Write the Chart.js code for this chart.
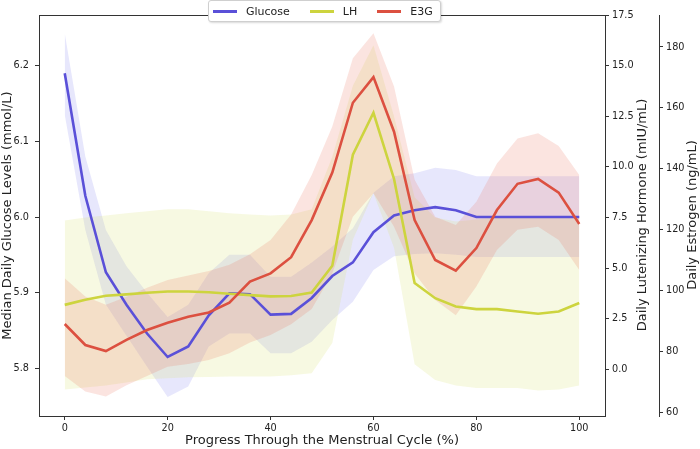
<!DOCTYPE html>
<html>
<head>
<meta charset="utf-8">
<script src="https://cdn.jsdelivr.net/npm/chart.js@4.4.0/dist/chart.umd.min.js"></script>
<style>
  body { margin: 0; background: #fff; font-family: 'DejaVu Sans', sans-serif; }
  #wrap { position: relative; width: 700px; height: 449px; }
  .ytitle { position: absolute; top: 215px; font-size: 13px; color: #222; white-space: nowrap;
            transform: translate(-50%, -50%) rotate(-90deg); }
  #legend { position: absolute; left: 208px; top: 0; height: 22px; box-sizing: border-box;
            display: flex; align-items: center; gap: 20px; padding: 0 7px 0 4px;
            background: #fff; border: 1px solid #cfcfcf; border-radius: 3px;
            box-shadow: 1px 1px 2px rgba(0,0,0,0.15); font-size: 11px; color: #222; }
  #legend .item { display: flex; align-items: center; gap: 9px; }
  #legend .swatch { width: 24px; height: 3px; }
</style>
</head>
<body>
<div id="wrap">
  <canvas id="chart" width="700" height="449"></canvas>
  <div class="ytitle" style="left:641px">Daily Lutenizing Hormone (mIU/mL)</div>
  <div class="ytitle" style="left:691px">Daily Estrogen (ng/mL)</div>
  <div id="legend"></div>
</div>
<script>
// progress through cycle (%)
const PROGRESS = [0, 4, 8, 12, 16, 20, 24, 28, 32, 36, 40, 44, 48, 52, 56, 60, 64, 68, 72, 76, 80, 84, 88, 92, 96, 100];

// glucose (mmol/L) median and band
const GLUCOSE    = [6.190, 6.028, 5.927, 5.884, 5.846, 5.815, 5.829, 5.870, 5.899, 5.898, 5.871, 5.872, 5.893, 5.922, 5.940, 5.980, 6.002, 6.009, 6.013, 6.009, 6.000, 6.000, 6.000, 6.000, 6.000, 6.000];
const GLUCOSE_HI = [6.243, 6.080, 5.983, 5.935, 5.900, 5.868, 5.884, 5.926, 5.950, 5.950, 5.921, 5.921, 5.940, 5.961, 5.985, 6.032, 6.054, 6.058, 6.065, 6.062, 6.054, 6.054, 6.054, 6.054, 6.054, 6.054];
const GLUCOSE_LO = [6.135, 5.983, 5.884, 5.843, 5.802, 5.762, 5.776, 5.829, 5.846, 5.846, 5.820, 5.820, 5.835, 5.864, 5.888, 5.930, 5.948, 5.951, 5.952, 5.950, 5.947, 5.947, 5.947, 5.947, 5.947, 5.947];

// LH (mIU/mL)
const LH    = [3.18, 3.43, 3.63, 3.70, 3.78, 3.84, 3.84, 3.80, 3.73, 3.66, 3.60, 3.62, 3.79, 5.11, 10.6, 12.67, 9.4, 4.26, 3.51, 3.10, 2.97, 2.97, 2.85, 2.74, 2.85, 3.27];
const LH_HI = [7.35, 7.5, 7.6, 7.7, 7.8, 7.9, 7.9, 7.8, 7.7, 7.65, 7.6, 7.65, 7.9, 10.5, 14.0, 16.0, 12.5, 8.5, 7.5, 7.3, 7.4, 7.5, 7.5, 7.5, 7.5, 7.5];
const LH_LO = [-1.0, -0.9, -0.8, -0.65, -0.5, -0.45, -0.4, -0.38, -0.36, -0.36, -0.36, -0.3, -0.2, 1.3, 6.4, 8.7, 6.0, 0.25, -0.53, -0.8, -0.93, -0.93, -0.93, -1.05, -1.0, -0.8];

// E3G (ng/mL)
const E3G    = [89.1, 82.2, 80.2, 83.9, 87.1, 89.5, 91.5, 92.9, 96.1, 103.0, 105.7, 111.0, 123.2, 138.8, 161.7, 170.1, 152.2, 123.2, 110.1, 106.6, 114.0, 126.5, 135.1, 136.7, 132.2, 121.9];
const E3G_HI = [104.1, 98.1, 95.4, 98.0, 101.0, 103.5, 105.0, 106.5, 108.5, 112.0, 116.7, 125.0, 138.0, 153.9, 176.3, 184.5, 167.0, 136.4, 124.3, 121.6, 129.2, 141.8, 150.0, 151.7, 147.5, 138.0];
const E3G_LO = [72.0, 66.9, 65.3, 69.0, 72.0, 75.1, 76.0, 77.3, 79.5, 83.0, 85.5, 89.0, 94.0, 105.7, 124.3, 132.0, 121.0, 105.7, 97.0, 92.0, 101.4, 113.4, 120.0, 121.0, 116.7, 106.8];

const SERIES = ['Glucose', 'LH', 'E3G'];
const X_TICKS = [0, 20, 40, 60, 80, 100];
const GLUCOSE_TICKS = [5.8, 5.9, 6.0, 6.1, 6.2];
const LH_TICKS = [0, 2.5, 5, 7.5, 10, 12.5, 15, 17.5];
const E3G_TICKS = [60, 80, 100, 120, 140, 160, 180];

const COLORS = ['#5a50d8', '#cdd43e', '#dc5040'];
const BANDS = ['rgba(110,110,240,0.17)', 'rgba(215,225,110,0.2)', 'rgba(235,110,90,0.19)'];

const pts = arr => arr.map((v, i) => ({ x: PROGRESS[i], y: v }));

function line(label, data, color, axis) {
  return { label, data: pts(data), yAxisID: axis, borderColor: color, borderWidth: 2.6,
           pointRadius: 0, tension: 0, fill: false };
}
function band(label, data, color, axis, fill) {
  return { label, data: pts(data), yAxisID: axis, borderWidth: 0, borderColor: 'transparent',
           backgroundColor: color, pointRadius: 0, tension: 0, fill };
}

const tickFont = { family: 'DejaVu Sans', size: 9.7 };
const titleFont = { family: 'DejaVu Sans', size: 13 };
const setTicks = list => scale => { scale.ticks = list.map(value => ({ value })); };

function axis(extra) {
  return Object.assign({
    type: 'linear',
    grid: { drawOnChartArea: false, drawTicks: true, tickLength: 4, color: '#333' },
    border: { color: '#333', width: 1 },
    ticks: { font: tickFont, color: '#222', padding: 3 }
  }, extra);
}

// draw the full frame around the plot area
const frame = {
  id: 'frame',
  afterDatasetsDraw(chart) {
    const { ctx, chartArea: a } = chart;
    ctx.save();
    ctx.strokeStyle = '#333';
    ctx.lineWidth = 1;
    ctx.strokeRect(a.left + 0.5, a.top + 0.5, a.right - a.left, a.bottom - a.top);
    ctx.restore();
  }
};

new Chart(document.getElementById('chart'), {
  type: 'line',
  data: {
    datasets: [
      line(SERIES[2], E3G, COLORS[2], 'e3g'),
      line(SERIES[1], LH, COLORS[1], 'lh'),
      line(SERIES[0], GLUCOSE, COLORS[0], 'y'),
      band('E3G high', E3G_HI, BANDS[2], 'e3g', '+1'),
      band('E3G low', E3G_LO, BANDS[2], 'e3g', false),
      band('LH high', LH_HI, BANDS[1], 'lh', '+1'),
      band('LH low', LH_LO, BANDS[1], 'lh', false),
      band('Glucose high', GLUCOSE_HI, BANDS[0], 'y', '+1'),
      band('Glucose low', GLUCOSE_LO, BANDS[0], 'y', false)
    ]
  },
  options: {
    responsive: false,
    animation: false,
    layout: { padding: { top: 15, left: 0, right: 0, bottom: 0 } },
    plugins: { legend: { display: false }, tooltip: { enabled: false } },
    scales: {
      x: axis({
        position: 'bottom', min: -5, max: 105,
        afterFit: s => { s.height = 33; },
        afterBuildTicks: setTicks(X_TICKS),
        title: { display: true, text: 'Progress Through the Menstrual Cycle (%)', font: titleFont,
                 color: '#222', padding: { top: 0, bottom: 1 } }
      }),
      y: axis({
        position: 'left', min: 5.737, max: 6.267,
        afterFit: s => { s.width = 39; },
        afterBuildTicks: setTicks(GLUCOSE_TICKS),
        ticks: { font: tickFont, color: '#222', padding: 6, callback: v => v.toFixed(1) },
        title: { display: true, text: 'Median Daily Glucose Levels (mmol/L)', font: titleFont,
                 color: '#222', padding: { top: 0, bottom: 0 } }
      }),
      lh: axis({
        position: 'right', min: -2.31, max: 17.5,
        afterFit: s => { s.width = 54; },
        afterBuildTicks: setTicks(LH_TICKS),
        ticks: { font: tickFont, color: '#222', padding: 3, callback: v => v.toFixed(1) }
      }),
      e3g: axis({
        position: 'right', min: 58.9, max: 190.5,
        afterFit: s => { s.width = 41; },
        afterBuildTicks: setTicks(E3G_TICKS),
        ticks: { font: tickFont, color: '#222', padding: 3, callback: v => String(v) }
      })
    }
  },
  plugins: [frame]
});

// legend as html, on top of the frame like the original
const legend = document.getElementById('legend');
SERIES.forEach((name, i) => {
  const item = document.createElement('div');
  item.className = 'item';
  const sw = document.createElement('span');
  sw.className = 'swatch';
  sw.style.background = COLORS[i];
  const txt = document.createElement('span');
  txt.textContent = name;
  item.appendChild(sw);
  item.appendChild(txt);
  legend.appendChild(item);
});
</script>
</body>
</html>
